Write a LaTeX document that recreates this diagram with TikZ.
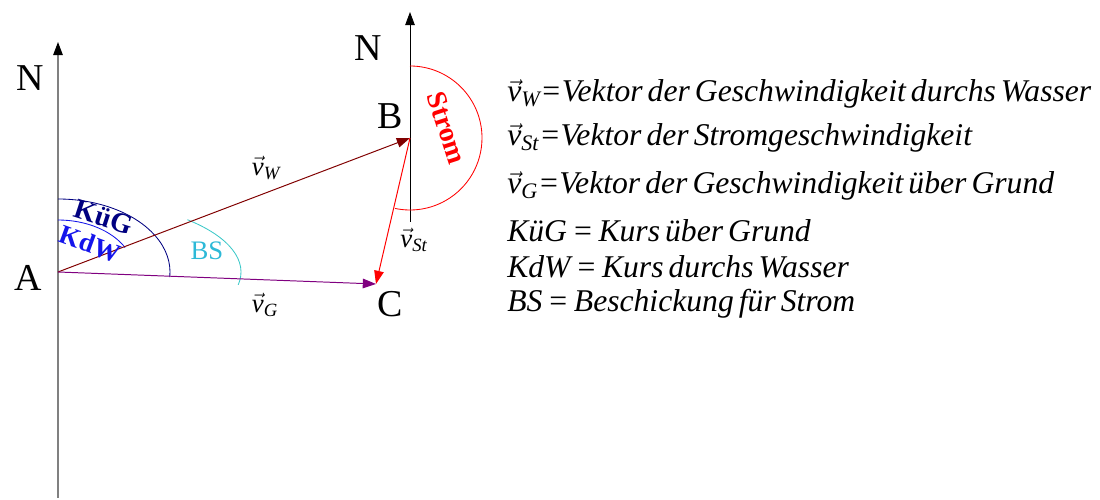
\documentclass[tikz,border=0pt]{standalone}
\usepackage{amsmath}
\usepackage{fontspec}
\setmainfont{Liberation Serif}[ItalicFont={Liberation Serif Italic}]
\usetikzlibrary{arrows.meta}

\definecolor{wcol}{RGB}{128,0,0}
\definecolor{gcol}{RGB}{128,0,128}
\definecolor{kuegcol}{RGB}{0,0,128}
\definecolor{kdwcol}{RGB}{20,20,235}
\definecolor{bscol}{RGB}{45,185,215}
\definecolor{bsarc}{RGB}{60,200,200}

\newcommand\vek[1]{$\vec{\textit{v}}_{\textit{#1}}$}
\newcommand\legfont{\fontsize{22.5}{25}\selectfont\itshape\spaceskip=0.16em\relax}

\begin{document}
\begin{tikzpicture}[x=0.025cm, y=0.025cm,
    lbl/.style={font=\fontsize{27}{30}\selectfont, inner sep=0pt},
    vlbl/.style={font=\fontsize{19}{22}\selectfont, inner sep=0pt},
    leg/.style={anchor=base west, inner sep=0pt, font=\legfont},
    arr/.style={-{Triangle[length=3.3mm,width=2.4mm]}},
    axis/.style={-{Triangle[length=3.3mm,width=2.4mm,color=black]}, line width=0.8pt},
    vec/.style={arr, line width=0.7pt},
    bogen/.style={line width=0.6pt}
]
\useasboundingbox (0,0) rectangle (1100,500);

% Points
\coordinate (A) at (58,228);
\coordinate (B) at (410,362);
\coordinate (C) at (376,216);
\coordinate (axAbot) at (58,2);
\coordinate (axAtop) at (58,458);
\coordinate (axBbot) at (410,278);
\coordinate (axBtop) at (410,488);

% North axes
\draw[axis, gray] (axAbot) -- (axAtop);
\draw[axis, black, line width=0.6pt] (axBbot) -- (axBtop);

% Angle arcs
\draw[bogen, kuegcol] (A) ++(0,73) arc[start angle=90, end angle=-4, x radius=112, y radius=73];
\draw[bogen, kdwcol] (A) ++(0,52) arc[start angle=90, end angle=28, x radius=76, y radius=52];
\draw[bogen, bsarc] (A) ++(45:183 and 74) arc[start angle=45, end angle=-10, x radius=183, y radius=74];
\draw[bogen, red] (B) ++(0,72) arc[start angle=90, end angle=-102, radius=72];

% Vectors
\draw[vec, wcol] (A) -- (B);
\draw[vec, gcol] (A) -- (C);
\draw[vec, red] (B) -- (C);

% Point and axis labels
\node[lbl] (labA)  at (28,222)  {A};
\node[lbl] (labB)  at (390,384) {B};
\node[lbl] (labC)  at (390,196) {C};
\node[lbl] (labNA) at (30,422)  {N};
\node[lbl] (labNB) at (368,452) {N};

% Vector labels
\node[vlbl] (labW)  at (266,332) {\vek{W}};
\node[vlbl] (labG)  at (265,195) {\vek{G}};
\node[vlbl] (labSt) at (414,260) {\vek{St}};

% Angle labels
\node[font=\fontsize{20}{22}\selectfont\bfseries, text=kuegcol, rotate=-18] (labKuG) at (104,283) {KüG};
\node[font=\fontsize{19}{22}\selectfont\bfseries, text=kdwcol, rotate=-20] (labKdW) at (90,256) {KdW};
\node[font=\fontsize{19}{22}\selectfont, text=bscol] (labBS) at (207,249) {BS};
\node[font=\fontsize{20}{22}\selectfont\bfseries, text=red, rotate=-72] (labStrom) at (447,372) {Strom};

% Legend
\node[leg] (leg1) at (507,398) {\vek{W}=Vektor der Geschwindigkeit durchs Wasser};
\node[leg] (leg2) at (507,354) {\vek{St}=Vektor der Stromgeschwindigkeit};
\node[leg] (leg3) at (507,306) {\vek{G}=Vektor der Geschwindigkeit über Grund};
\node[leg] (leg4) at (507,258) {KüG = Kurs über Grund};
\node[leg] (leg5) at (507,222) {KdW = Kurs durchs Wasser};
\node[leg] (leg6) at (507,188) {BS = Beschickung für Strom};
\end{tikzpicture}
\end{document}
